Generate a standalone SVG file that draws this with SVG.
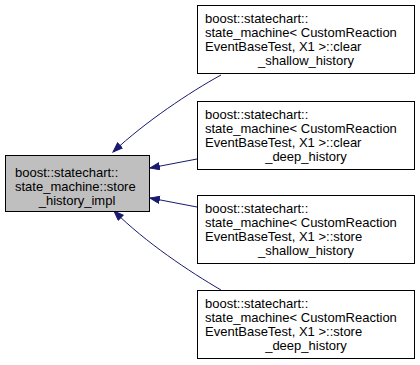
<svg xmlns="http://www.w3.org/2000/svg" width="420" height="365" viewBox="0 0 420 365">
  <style>
    .box { stroke: #000; stroke-width: 1; }
    .cur { fill: #bfbfbf; }
    .ref { fill: #ffffff; }
    text { font-family: "Liberation Sans", Arial, sans-serif; font-size: 13px; fill: #000; }
    .mid { text-anchor: middle; }
    .edge { fill: none; stroke: #191970; stroke-width: 1; }
  </style>
  <defs>
    <marker id="arrow" markerUnits="userSpaceOnUse" markerWidth="12" markerHeight="9" refX="10" refY="4" orient="auto">
      <path d="M0.5,0.5 L10,4 L0.5,7.5 z" fill="#191970" stroke="#191970" stroke-width="1"/>
    </marker>
  </defs>
  <rect width="420" height="365" fill="#ffffff"/>

  <g id="edges">
    <path class="edge" d="M221,75 C190,92 145,122 113,152" marker-end="url(#arrow)"/>
    <path class="edge" d="M197,159 L150,168" marker-end="url(#arrow)"/>
    <path class="edge" d="M197,207 L150,198" marker-end="url(#arrow)"/>
    <path class="edge" d="M221,290 C190,272 145,242 114,211" marker-end="url(#arrow)"/>
  </g>

  <g id="node_store_history_impl">
    <rect class="box cur" x="5.5" y="155.5" width="144" height="56"/>
    <text x="15" y="177">boost::statechart::</text>
    <text x="15" y="191">state_machine::store</text>
    <text class="mid" x="77" y="205">_history_impl</text>
  </g>

  <g id="node_clear_shallow_history">
    <rect class="box ref" x="197.5" y="5.5" width="217" height="68"/>
    <text x="205" y="23">boost::statechart::</text>
    <text x="205" y="37">state_machine&lt; CustomReaction</text>
    <text x="205" y="51">EventBaseTest, X1 &gt;::clear</text>
    <text class="mid" x="306" y="65">_shallow_history</text>
  </g>

  <g id="node_clear_deep_history">
    <rect class="box ref" x="197.5" y="101.5" width="217" height="68"/>
    <text x="205" y="119">boost::statechart::</text>
    <text x="205" y="133">state_machine&lt; CustomReaction</text>
    <text x="205" y="147">EventBaseTest, X1 &gt;::clear</text>
    <text class="mid" x="306" y="161">_deep_history</text>
  </g>

  <g id="node_store_shallow_history">
    <rect class="box ref" x="197.5" y="195.5" width="217" height="68"/>
    <text x="205" y="213">boost::statechart::</text>
    <text x="205" y="227">state_machine&lt; CustomReaction</text>
    <text x="205" y="241">EventBaseTest, X1 &gt;::store</text>
    <text class="mid" x="306" y="255">_shallow_history</text>
  </g>

  <g id="node_store_deep_history">
    <rect class="box ref" x="197.5" y="290.5" width="217" height="68"/>
    <text x="205" y="308">boost::statechart::</text>
    <text x="205" y="322">state_machine&lt; CustomReaction</text>
    <text x="205" y="336">EventBaseTest, X1 &gt;::store</text>
    <text class="mid" x="306" y="350">_deep_history</text>
  </g>
</svg>
